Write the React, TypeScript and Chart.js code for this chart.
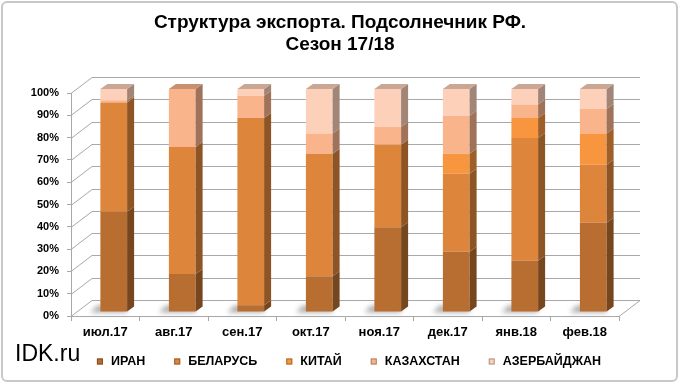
import React, { useEffect, useRef } from "react";
import { Chart, registerables } from "chart.js";

Chart.register(...registerables);

// ---------- data ----------
const CATEGORIES = ["июл.17", "авг.17", "сен.17", "окт.17", "ноя.17", "дек.17", "янв.18", "фев.18"];
const SERIES_NAMES = ["ИРАН", "БЕЛАРУСЬ", "КИТАЙ", "КАЗАХСТАН", "АЗЕРБАЙДЖАН"];
const IRAN = [45, 17, 3, 16, 38, 27, 23, 40];
const BELARUS = [49, 57, 84, 55, 37, 35, 55, 26];
const CHINA = [0, 0, 0, 0, 0, 9, 9, 14];
const KAZAKHSTAN = [1, 26, 10, 9, 8, 17, 6, 11];
const AZERBAIJAN = [5, 0, 3, 20, 17, 12, 7, 9];
const Y_TICKS = [0, 10, 20, 30, 40, 50, 60, 70, 80, 90, 100];
const TITLE_LINES = ["Структура экспорта. Подсолнечник РФ.", "Сезон 17/18"];
const WATERMARK = "IDK.ru";

// ---------- styles ----------
const COLORS = ["#b96e31", "#dd853b", "#f7963f", "#f9b48c", "#fcd0b9"];
const FONT = "'Liberation Sans', Arial, sans-serif";
const GRID = "#a8a8a8";
const BACK_DX = 21;
const BACK_DY = 16;
const BAR_DX = 8.5;
const BAR_DY = -4;
const DEPTH_X = 7;
const DEPTH_Y = 5;

function shade(hex: string, k: number): string {
  const n = parseInt(hex.slice(1), 16);
  const r = Math.round(((n >> 16) & 255) * k);
  const g = Math.round(((n >> 8) & 255) * k);
  const b = Math.round((n & 255) * k);
  return `rgb(${r},${g},${b})`;
}

function poly(ctx: CanvasRenderingContext2D, pts: number[]) {
  ctx.beginPath();
  ctx.moveTo(pts[0], pts[1]);
  for (let i = 2; i < pts.length; i += 2) ctx.lineTo(pts[i], pts[i + 1]);
  ctx.closePath();
  ctx.fill();
}

const threeD = {
  id: "threeD",
  beforeDraw(chart: any) {
    const ctx = chart.ctx;
    ctx.save();
    ctx.fillStyle = "#fff";
    ctx.fillRect(0, 0, chart.width, chart.height);
    ctx.restore();
  },
  beforeDatasetsDraw(chart: any) {
    const { ctx, chartArea: a, scales } = chart;
    const y = scales.y;
    ctx.save();
    ctx.strokeStyle = GRID;
    ctx.lineWidth = 1;
    y.ticks.forEach((t: any) => {
      const py = Math.round(y.getPixelForValue(t.value)) + 0.5;
      ctx.beginPath();
      ctx.moveTo(a.left, py);
      ctx.lineTo(a.left + BACK_DX, py - BACK_DY);
      ctx.lineTo(a.right + BACK_DX, py - BACK_DY);
      ctx.stroke();
    });
    const pb = Math.round(a.bottom) + 0.5;
    ctx.beginPath();
    ctx.moveTo(a.right, pb);
    ctx.lineTo(a.right + BACK_DX, pb - BACK_DY);
    ctx.stroke();
    ctx.restore();

    // floor shadows
    ctx.save();
    ctx.translate(BAR_DX, BAR_DY);
    const meta0 = chart.getDatasetMeta(0);
    ctx.filter = "blur(2.5px)";
    ctx.fillStyle = "rgba(70,70,70,0.45)";
    meta0.data.forEach((el: any) => {
      const { x, base, width } = el.getProps(["x", "base", "width"], true);
      const l = x - width / 2;
      const r = x + width / 2;
      poly(ctx, [l - 10, base + 1, l - 3, base - 6, r, base - 6, r, base + 1]);
    });
    ctx.filter = "none";
    ctx.restore();

    ctx.save();
    ctx.translate(BAR_DX, BAR_DY);
  },
  afterDatasetsDraw(chart: any) {
    const ctx = chart.ctx;
    const metas = chart.getSortedVisibleDatasetMetas();
    for (let i = 0; i < CATEGORIES.length; i++) {
      let top: any = null;
      metas.forEach((meta: any) => {
        const el = meta.data[i];
        if (!el) return;
        const { x, y, base, width } = el.getProps(["x", "y", "base", "width"], true);
        if (Math.abs(base - y) < 0.5) return;
        const r = x + width / 2;
        const c = COLORS[meta.index];
        ctx.fillStyle = shade(c, 0.64);
        poly(ctx, [r, y, r + DEPTH_X, y - DEPTH_Y, r + DEPTH_X, base - DEPTH_Y, r, base]);
        if (!top || y < top.y) top = { x, y, width, c };
      });
      if (top) {
        const l = top.x - top.width / 2;
        const r = top.x + top.width / 2;
        ctx.fillStyle = shade(top.c, 0.8);
        poly(ctx, [l, top.y, l + DEPTH_X, top.y - DEPTH_Y, r + DEPTH_X, top.y - DEPTH_Y, r, top.y]);
      }
    }
    ctx.restore();
  },
  afterDraw(chart: any) {
    const ctx = chart.ctx;
    ctx.save();
    // watermark
    ctx.fillStyle = "#000";
    ctx.font = `23px ${FONT}`;
    ctx.textBaseline = "middle";
    ctx.textAlign = "left";
    ctx.fillText(WATERMARK, 15, 355);
    // legend
    ctx.font = `bold 12.5px ${FONT}`;
    const box = 5;
    const gap = 9;
    const itemGap = 29;
    const items = chart.data.datasets.map((d: any, i: number) => ({
      label: d.label,
      color: COLORS[i],
      w: box + gap + ctx.measureText(d.label).width,
    }));
    const total = items.reduce((s: number, it: any) => s + it.w, 0) + itemGap * (items.length - 1);
    let x = 349 - total / 2;
    const cy = 361.5;
    items.forEach((it: any) => {
      ctx.fillStyle = it.color;
      ctx.fillRect(x, cy - 3, box + 1, box + 1);
      ctx.strokeStyle = shade(it.color, 0.7);
      ctx.lineWidth = 1;
      ctx.strokeRect(x + 0.5, cy - 2.5, box, box);
      ctx.fillStyle = "#000";
      ctx.fillText(it.label, x + box + gap, cy);
      x += it.w + itemGap;
    });
    ctx.restore();
  },
};

export default function App() {
  const ref = useRef<HTMLCanvasElement | null>(null);
  useEffect(() => {
    if (!ref.current) return;
    const series = [IRAN, BELARUS, CHINA, KAZAKHSTAN, AZERBAIJAN];
    const chart = new Chart(ref.current, {
      type: "bar",
      data: {
        labels: CATEGORIES,
        datasets: series.map((vals, i) => ({
          label: SERIES_NAMES[i],
          data: vals,
          backgroundColor: COLORS[i],
          borderWidth: 0,
          barPercentage: 0.39,
          categoryPercentage: 1,
        })),
      },
      options: {
        responsive: false,
        animation: false,
        events: [],
        layout: { padding: { left: 0, right: 0, top: 0, bottom: 0 } },
        plugins: {
          legend: { display: false },
          tooltip: { enabled: false },
          title: {
            display: true,
            text: TITLE_LINES,
            color: "#000",
            font: { family: FONT, size: 19, weight: "bold", lineHeight: 21.5 / 19 },
            padding: { top: 12.5, bottom: 37.5 },
          },
        },
        scales: {
          x: {
            stacked: true,
            offset: true,
            grid: { display: true, drawOnChartArea: false, drawTicks: true, tickLength: 5, color: GRID, offset: true },
            border: { display: true, color: GRID },
            ticks: {
              color: "#000",
              font: { family: FONT, size: 13, weight: "bold" },
              padding: 4,
              maxRotation: 0,
              autoSkip: false,
            },
            afterFit: (s: any) => {
              s.height = 68;
            },
          },
          y: {
            stacked: true,
            min: 0,
            max: 100,
            afterBuildTicks: (s: any) => {
              s.ticks = Y_TICKS.map((v) => ({ value: v }));
            },
            grid: { display: true, drawOnChartArea: false, drawTicks: true, tickLength: 4, color: GRID },
            border: { display: true, color: GRID },
            ticks: {
              color: "#000",
              font: { family: FONT, size: 11, weight: "bold" },
              padding: 8,
              callback: (v: any) => `${v}%`,
            },
            afterFit: (s: any) => {
              s.width = 71;
            },
          },
          spacer: {
            type: "linear",
            position: "right",
            display: true,
            grid: { display: false },
            border: { display: false },
            ticks: { display: false },
            afterFit: (s: any) => {
              s.width = 61;
            },
          },
        },
      },
      plugins: [threeD],
    } as any);
    return () => chart.destroy();
  }, []);

  return (
    <div style={{ position: "fixed", left: 0, top: 0, width: 680, height: 384, background: "#fff" }}>
      <canvas ref={ref} width={680} height={384} style={{ display: "block", width: 680, height: 384 }} />
      <div
        style={{
          position: "absolute",
          left: 1,
          top: 1,
          width: 677,
          height: 381,
          boxSizing: "border-box",
          border: "2px solid #c8c8c8",
          borderRadius: 6,
          pointerEvents: "none",
        }}
      />
    </div>
  );
}
